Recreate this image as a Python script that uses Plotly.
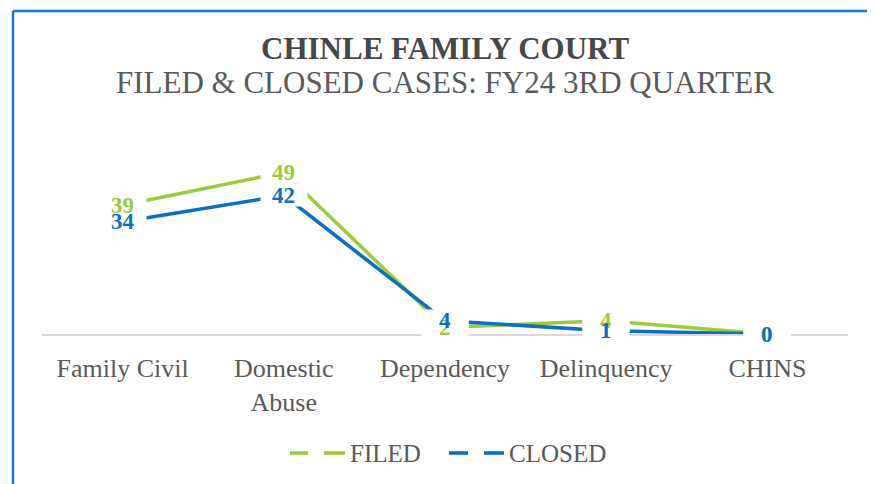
import plotly.graph_objects as go

categories = ["Family Civil", "Domestic<br>Abuse", "Dependency", "Delinquency", "CHINS"]
filed = [39, 49, 2, 4, 0]
closed = [34, 42, 4, 1, 0]
series_names = ["FILED", "CLOSED"]

GREEN = "#9BCB3C"
BLUE = "#0B70C0"
GRAY = "#595959"
FONT = "Liberation Serif"

O = 8  # page body margin
W, H = 867, 476
L, R, T, B = 34, 27, 128, 150
pw, ph = W - L - R, H - T - B

def px_x(px):  # page pixel -> paper
    return (px - O - L) / pw

def px_y(py):
    return (H - B - (py - O)) / ph

fig = go.Figure()
xs = list(range(len(categories)))
fig.add_trace(go.Scatter(x=xs, y=filed, mode="lines", name=series_names[0],
                         line=dict(color=GREEN, width=3.6), showlegend=False, hoverinfo="skip"))
fig.add_trace(go.Scatter(x=xs, y=closed, mode="lines", name=series_names[1],
                         line=dict(color=BLUE, width=3.6), showlegend=False, hoverinfo="skip"))

annotations = []
# white label boxes first (hide lines and axis beneath labels)
for series in (filed, closed):
    for i, v in enumerate(series):
        annotations.append(dict(x=i, y=v, xref="x", yref="y", text=" ",
                                showarrow=False, bgcolor="white", width=44, height=20,
                                font=dict(family=FONT, size=8)))
# label texts on top
for series, color in ((filed, GREEN), (closed, BLUE)):
    for i, v in enumerate(series):
        annotations.append(dict(x=i, y=v, xref="x", yref="y", text="<b>%d</b>" % v,
                                showarrow=False,
                                font=dict(family=FONT, size=23, color=color)))

annotations.append(dict(x=px_x(445), y=px_y(48), xref="paper", yref="paper", xanchor="center",
                        yanchor="middle", showarrow=False,
                        text="<b>CHINLE FAMILY COURT</b>",
                        font=dict(family=FONT, size=31, color="#474747")))
annotations.append(dict(x=px_x(445), y=px_y(82), xref="paper", yref="paper", xanchor="center",
                        yanchor="middle", showarrow=False,
                        text="FILED &amp; CLOSED CASES: FY24 3RD QUARTER",
                        font=dict(family=FONT, size=31, color=GRAY)))

shapes = [
    dict(type="line", xref="paper", yref="paper", x0=px_x(13), x1=px_x(875), y0=px_y(11), y1=px_y(11),
         line=dict(color="#1C74CC", width=2.5)),
    dict(type="line", xref="paper", yref="paper", x0=px_x(13), x1=px_x(13), y0=px_y(11), y1=px_y(484),
         line=dict(color="#1C74CC", width=2.5)),
]

# legend drawn manually (long dashes as in the reference)
LEG_Y = 453
for name, color, segs, tx in ((series_names[0], GREEN, [(290, 308), (324, 345)], 348),
                              (series_names[1], BLUE, [(449, 468), (484, 504)], 507)):
    for a, b in segs:
        shapes.append(dict(type="line", xref="paper", yref="paper", x0=px_x(a), x1=px_x(b),
                           y0=px_y(LEG_Y), y1=px_y(LEG_Y), line=dict(color=color, width=3.6)))
    annotations.append(dict(x=px_x(tx), y=px_y(LEG_Y), xref="paper", yref="paper",
                            xanchor="left", yanchor="middle", showarrow=False, text=name,
                            font=dict(family=FONT, size=25, color=GRAY)))

fig.update_layout(
    width=W, height=H,
    margin=dict(l=L, r=R, t=T, b=B),
    paper_bgcolor="white", plot_bgcolor="white",
    font=dict(family=FONT, color=GRAY),
    xaxis=dict(tickmode="array", tickvals=xs, ticktext=categories, range=[-0.5, 4.5],
               showgrid=False, zeroline=False, showline=True, linecolor="#D9D9D9", linewidth=2,
               ticks="", ticklabelstandoff=10,
               tickfont=dict(family=FONT, size=26, color=GRAY), fixedrange=True),
    yaxis=dict(range=[0, 60], visible=False, showgrid=False, zeroline=False, fixedrange=True),
    showlegend=False,
    annotations=annotations,
    shapes=shapes,
)

fig.write_html("out.html")
